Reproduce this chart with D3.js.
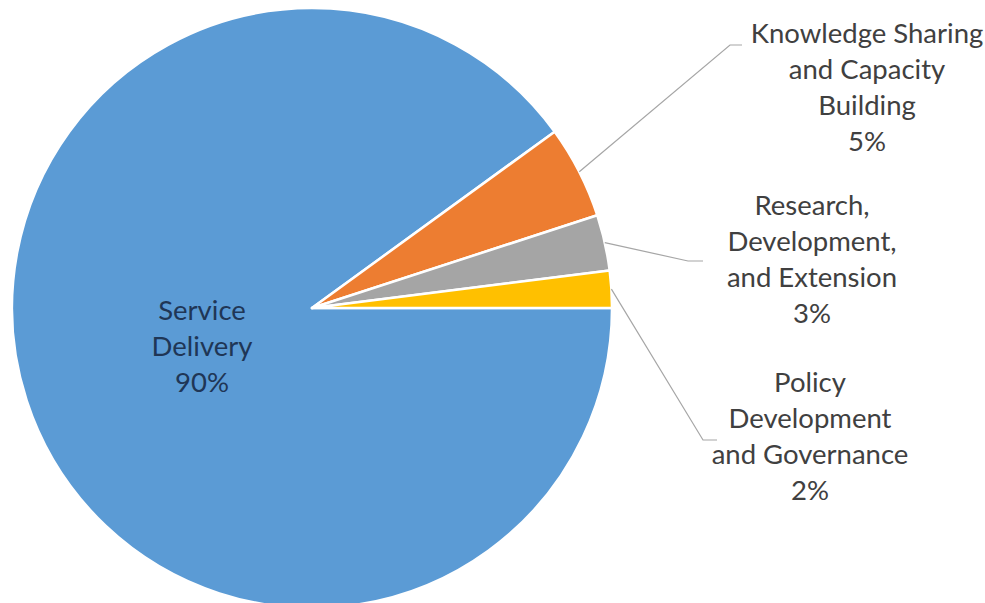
<!DOCTYPE html>
<html>
<head>
<meta charset="utf-8">
<script src="https://cdn.jsdelivr.net/npm/d3@7"></script>
<style>
  html, body { margin: 0; padding: 0; background: #ffffff; }
  svg { display: block; }
</style>
</head>
<body>
<svg id="chart" width="985" height="603"></svg>
<script>
// Budget share by programme area
const categories = [
  "Service Delivery",
  "Knowledge Sharing and Capacity Building",
  "Research, Development, and Extension",
  "Policy Development and Governance"
];
const shares = [90, 5, 3, 2];
const labelLines = [
  ["Service", "Delivery"],
  ["Knowledge Sharing", "and Capacity", "Building"],
  ["Research,", "Development,", "and Extension"],
  ["Policy", "Development", "and Governance"]
];
const colors = ["#5B9BD5", "#ED7D31", "#A5A5A5", "#FFC000"];

const width = 985, height = 603;
const cx = 312, cy = 308, radius = 300;
const fontSize = 27.5, lineGap = 36;

// Label placement for each slice: text centre, first line y, leader elbow
const layout = [
  { inside: true, x: 202, y: 310 },
  { x: 867, y: 33, elbow: [730, 45], end: [742, 45] },
  { x: 812, y: 205, elbow: [688, 261], end: [703, 261] },
  { x: 810, y: 382, elbow: [703, 440], end: [717, 440] }
];

const data = categories.map((c, i) => ({ name: c, value: shares[i], lines: labelLines[i], color: colors[i], pos: layout[i] }));

const svg = d3.select("#chart");
const g = svg.append("g").attr("transform", `translate(${cx},${cy})`);

const pie = d3.pie()
  .sort(null)
  .value(d => d.value)
  .startAngle(Math.PI / 2)
  .endAngle(Math.PI / 2 + 2 * Math.PI);

const arc = d3.arc().innerRadius(0).outerRadius(radius);
const arcs = pie(data);

g.selectAll("path.slice")
  .data(arcs)
  .join("path")
  .attr("class", "slice")
  .attr("d", arc)
  .attr("fill", d => d.data.color)
  .attr("stroke", "#ffffff")
  .attr("stroke-width", 2.5)
  .attr("stroke-linejoin", "round");

// Leader lines from slice edge to outside labels
arcs.filter(d => !d.data.pos.inside).forEach(d => {
  const mid = (d.startAngle + d.endAngle) / 2;
  const sx = cx + Math.sin(mid) * radius;
  const sy = cy - Math.cos(mid) * radius;
  const p = d.data.pos;
  svg.append("polyline")
    .attr("points", [[sx, sy], p.elbow, p.end].map(q => q.join(",")).join(" "))
    .attr("fill", "none")
    .attr("stroke", "#A6A6A6")
    .attr("stroke-width", 1.2);
});

// Category labels with percentages
arcs.forEach(d => {
  const p = d.data.pos;
  const lines = d.data.lines.concat([d3.format("d")(d.data.value) + "%"]);
  const t = svg.append("text")
    .attr("text-anchor", "middle")
    .attr("font-family", "Lato, 'Open Sans', sans-serif")
    .attr("font-size", fontSize)
    .attr("fill", p.inside ? "#1F3656" : "#404040");
  lines.forEach((ln, i) => {
    t.append("tspan")
      .attr("x", p.x)
      .attr("y", p.y + i * lineGap)
      .attr("dy", "0.35em")
      .text(ln);
  });
});
</script>
</body>
</html>
